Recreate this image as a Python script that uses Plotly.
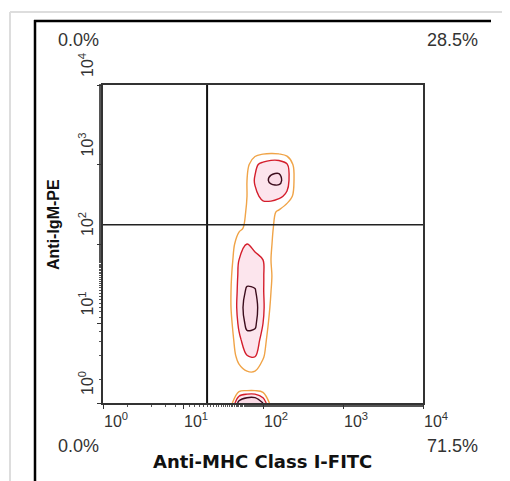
import numpy as np
import plotly.graph_objects as go

# ---- data ----
# grid of log10 fluorescence positions and estimated relative event density
x_log = [1.4, 1.5, 1.6, 1.7, 1.8, 1.9, 2.0, 2.1, 2.2, 2.3, 2.4, 2.5, 2.6]
y_log = [0.0, 0.2, 0.4, 0.6, 0.8, 1.0, 1.2, 1.4, 1.6, 1.8, 2.0, 2.2, 2.4, 2.6, 2.8, 3.0, 3.2, 3.4]
density = [
    [0, 0, 0.5, 3.5, 4.5, 4.5, 3.0, 0.5, 0, 0, 0, 0, 0],
    [0, 0, 0, 0, 0, 0, 0, 0, 0, 0, 0, 0, 0],
    [0, 0, 0, 0.6, 1.0, 1.0, 0.4, 0, 0, 0, 0, 0, 0],
    [0, 0, 0.3, 1.5, 2.0, 2.1, 1.2, 0, 0, 0, 0, 0, 0],
    [0, 0, 0.6, 1.8, 2.6, 2.6, 1.6, 0.2, 0, 0, 0, 0, 0],
    [0, 0, 0.8, 2.2, 3.3, 3.2, 2.0, 0.5, 0, 0, 0, 0, 0],
    [0, 0, 1.0, 2.4, 3.6, 3.4, 2.2, 0.8, 0, 0, 0, 0, 0],
    [0, 0, 1.0, 2.3, 3.2, 3.1, 2.1, 1.0, 0.2, 0, 0, 0, 0],
    [0, 0, 0.9, 2.2, 2.6, 2.6, 2.1, 1.1, 0.2, 0, 0, 0, 0],
    [0, 0, 0.7, 2.0, 2.3, 2.2, 2.0, 1.0, 0, 0, 0, 0, 0],
    [0, 0, 0.5, 1.6, 2.0, 1.8, 1.5, 1.1, 0.3, 0, 0, 0, 0],
    [0, 0, 0.2, 0.8, 1.2, 1.3, 1.4, 1.2, 0.5, 0, 0, 0, 0],
    [0, 0, 0, 0.5, 1.1, 1.3, 1.5, 1.3, 0.8, 0, 0, 0, 0],
    [0, 0, 0, 0.2, 1.0, 1.8, 2.2, 2.3, 2.2, 1.8, 0.6, 0, 0],
    [0, 0, 0, 0, 1.0, 2.1, 2.6, 3.2, 3.3, 2.4, 0.8, 0, 0],
    [0, 0, 0, 0, 0.7, 1.8, 2.3, 2.6, 2.6, 2.1, 0.6, 0, 0],
    [0, 0, 0, 0, 0, 0.2, 0.3, 0.3, 0.2, 0, 0, 0, 0],
    [0, 0, 0, 0, 0, 0, 0, 0, 0, 0, 0, 0, 0],
]
x_gate = 20     # Anti-MHC Class I-FITC quadrant gate
y_gate = 175    # Anti-IgM-PE quadrant gate
tick_exps = [0, 1, 2, 3, 4]
quadrant_pct = {"UL": "0.0%", "UR": "28.5%", "LL": "0.0%", "LR": "71.5%"}

x_vals = [10 ** v for v in x_log]
y_vals = [10 ** v for v in y_log]

# ---- geometry (screen pixels; page body has an 8px margin) ----
OFF = 8
W, H = 510 - OFF, 481 - OFF
L, R, T, B = 103, 423, 85, 403          # plot area in screen pixels


def px(xs):
    return (xs - L) / (R - L)


def py(ys):
    return (B - ys) / (B - T)


fig = go.Figure()

# faint fill
fig.add_trace(go.Contour(
    x=x_vals, y=y_vals, z=density,
    contours=dict(coloring="fill", start=1, end=3, size=1),
    zmin=0, zmax=3,
    colorscale=[[0, "rgba(255,255,255,0)"], [0.33, "rgba(255,255,255,0)"],
                [0.34, "#fff4e6"], [0.66, "#fde8ef"], [1, "#fadbe6"]],
    line=dict(width=0), showscale=False, hoverinfo="skip",
))
# contour lines
fig.add_trace(go.Contour(
    x=x_vals, y=y_vals, z=density,
    contours=dict(coloring="lines", start=1, end=3, size=1),
    zmin=1, zmax=3,
    colorscale=[[0, "#f0a448"], [0.5, "#d41e2c"], [1, "#3c0c1c"]],
    line=dict(width=1.4), showscale=False,
))

# quadrant gates
fig.add_trace(go.Scatter(x=[x_gate, x_gate], y=[1, 1e4], mode="lines",
                         line=dict(color="#111", width=2), showlegend=False, hoverinfo="skip"))
fig.add_trace(go.Scatter(x=[1, 1e4], y=[y_gate, y_gate], mode="lines",
                         line=dict(color="#222", width=1.5), showlegend=False, hoverinfo="skip"))

axis_common = dict(type="log", range=[0, 4], showgrid=False, zeroline=False,
                   showline=True, linecolor="#333", linewidth=1.5, mirror=True,
                   ticks="outside", ticklen=4, tickcolor="#333",
                   showticklabels=False, tickvals=[10 ** e for e in tick_exps],
                   minor=dict(ticks="outside", ticklen=2, tickcolor="#555", showgrid=False))

fig.update_layout(
    width=W, height=H,
    margin=dict(l=L - OFF, r=510 - R, t=T - OFF, b=481 - B),
    paper_bgcolor="white", plot_bgcolor="white",
    showlegend=False,
    xaxis=axis_common, yaxis=axis_common,
    font=dict(family="Liberation Sans, Arial", color="#333"),
)

ann = []
tick_font = dict(family="Liberation Sans, Arial", size=16, color="#333")
for e in tick_exps:
    ann.append(dict(x=e, y=0, xref="x", yref="paper", text=f"10<sup>{e}</sup>",
                    showarrow=False, xanchor="left", yanchor="top", xshift=-1, yshift=-5,
                    font=tick_font))
    ann.append(dict(x=0, y=e, xref="paper", yref="y", text=f"10<sup>{e}</sup>",
                    showarrow=False, textangle=-90, xanchor="center", yanchor="middle",
                    xshift=-17, yshift=20, font=tick_font))

pct_font = dict(family="Liberation Sans, Arial", size=18, color="#333")


def centered(xs, ys, text, font, angle=0):
    return dict(x=px(xs), y=py(ys), xref="paper", yref="paper", text=text,
                showarrow=False, xanchor="center", yanchor="middle",
                textangle=angle, font=font)


ann += [
    centered(78, 40, quadrant_pct["UL"], pct_font),
    centered(452, 40, quadrant_pct["UR"], pct_font),
    centered(78, 446, quadrant_pct["LL"], pct_font),
    centered(452, 446, quadrant_pct["LR"], pct_font),
    centered(262, 461, "<b>Anti-MHC Class I-FITC</b>", dict(family="DejaVu Sans", size=18, color="#111")),
    centered(53, 225, "<b>Anti-IgM-PE</b>", dict(family="Liberation Sans, Arial", size=16, color="#111"), -90),
]
fig.update_layout(annotations=ann)

# frame decorations
shapes = [
    dict(type="line", xref="paper", yref="paper", x0=px(10), x1=px(512), y0=py(12), y1=py(12),
         line=dict(color="#dddddd", width=2)),
    dict(type="line", xref="paper", yref="paper", x0=px(10), x1=px(10), y0=py(12), y1=py(483),
         line=dict(color="#dddddd", width=2)),
    dict(type="line", xref="paper", yref="paper", x0=px(34), x1=px(491), y0=py(21), y1=py(21),
         line=dict(color="#000", width=2.5)),
    dict(type="line", xref="paper", yref="paper", x0=px(35), x1=px(35), y0=py(20), y1=py(483),
         line=dict(color="#000", width=2.5)),
]
fig.update_layout(shapes=shapes)

fig.write_html("out.html")
